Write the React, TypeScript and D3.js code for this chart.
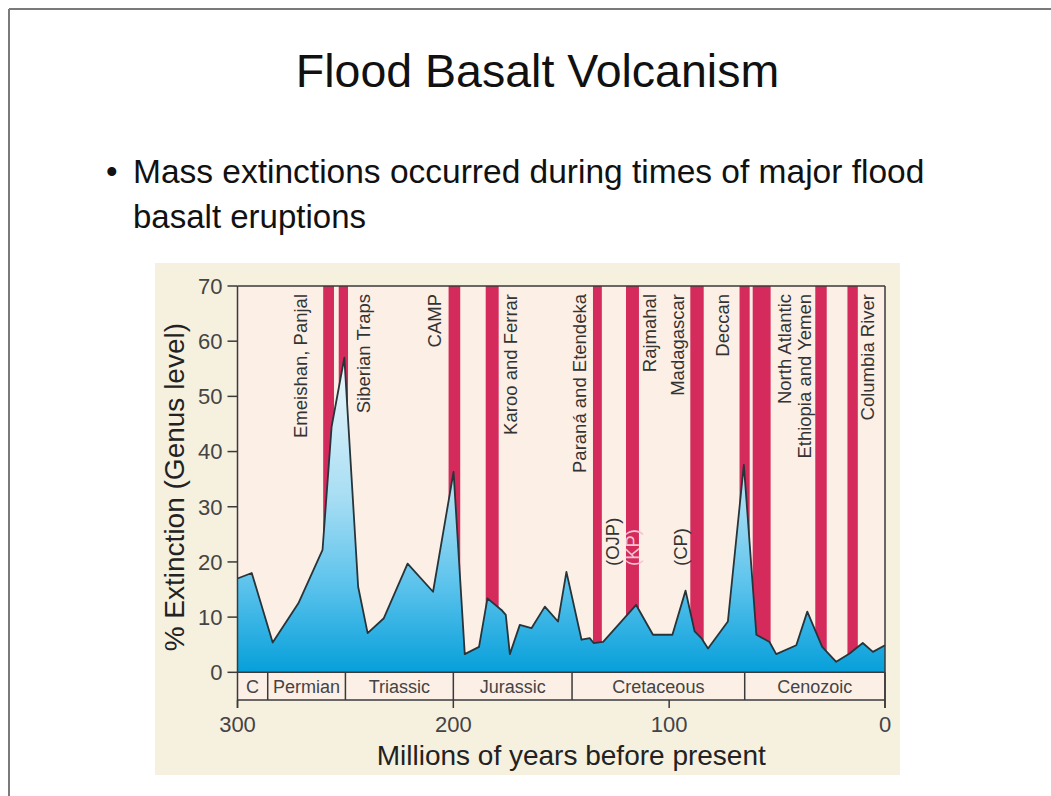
import React from "react";
import * as d3 from "d3";

// ---------- data ----------
const ages = [300, 293.4, 283.7, 271.8, 260.6, 256.4, 250.5, 244.1, 239.7, 232.2, 221.2, 209.4, 199.9, 194.7, 188.1, 184.2, 177.7, 175.7, 173.8, 169.2, 163.8, 157.6, 151.5, 147.6, 140.6, 136.8, 135, 130.6, 115.3, 107.5, 98.5, 92.4, 88.2, 85.1, 82, 72.8, 65.4, 59.6, 53.5, 50.4, 41.1, 36, 29.1, 22.6, 16.4, 10.3, 5.6, 0];
const extinction = [17, 18, 5.4, 12.5, 22.2, 44.5, 57, 15.5, 7.1, 9.8, 19.7, 14.6, 36.3, 3.3, 4.6, 13.4, 11.3, 10.4, 3.3, 8.6, 8.0, 11.9, 9.2, 18.2, 5.9, 6.2, 5.3, 5.5, 12.2, 6.8, 6.8, 14.8, 7.4, 6.2, 4.3, 9.2, 37.6, 6.8, 5.5, 3.3, 4.9, 11.0, 4.6, 1.9, 3.4, 5.3, 3.7, 4.9];

const eruptionNames = ["Emeishan, Panjal", "Siberian Traps", "CAMP", "Karoo and Ferrar", "Paraná and Etendeka", "Rajmahal", "Madagascar", "Deccan", "North Atlantic", "Ethiopia and Yemen", "Columbia River"];
const eruptionStart = [260.3, 253.1, 202.2, 185, 135.3, 120, 90.2, 67.4, 61.3, 32.3, 17.4];
const eruptionEnd = [255.3, 248.8, 196.8, 179, 131.2, 114, 84, 62.7, 53, 27, 12.6];
const eruptionLabelAge = [268, 238.7, 205.8, 170.6, 138.7, 106.2, 93.3, 72.5, 43.7, 34.5, 4.9];

const plateauNames = ["(OJP)", "(KP)", "(CP)"];
const plateauLabelAge = [123.4, 114.1, 91.7];

const periodNames = ["C", "Permian", "Triassic", "Jurassic", "Cretaceous", "Cenozoic"];
const periodStart = [300, 286, 250, 200, 145, 65];
const periodEnd = [286, 250, 200, 145, 65, 0];

const xTicks = [300, 200, 100, 0];
const yTicks = [0, 10, 20, 30, 40, 50, 60, 70];

const FONT = "'Liberation Sans', Arial, Helvetica, sans-serif";

export default function App() {
  const x = d3.scaleLinear().domain([300, 0]).range([237.5, 885]);
  const y = d3.scaleLinear().domain([0, 70]).range([672.3, 286]);
  const rowBottom = 700;

  const pts = ages.map((a, i) => ({ a, v: extinction[i] }));
  const area = d3.area<{ a: number; v: number }>()
    .x((d) => x(d.a))
    .y0(y(0))
    .y1((d) => y(d.v));
  const line = d3.line<{ a: number; v: number }>()
    .x((d) => x(d.a))
    .y((d) => y(d.v));

  const axisColor = "#3a3a3a";

  return (
    <svg width={1051} height={796} style={{ position: "absolute", left: 0, top: 0, background: "#fff" }} fontFamily={FONT}>
      <defs>
        <linearGradient id="fillGrad" gradientUnits="userSpaceOnUse" x1="0" y1={y(57)} x2="0" y2={y(0)}>
          <stop offset="0" stopColor="#eef8fc" />
          <stop offset="0.45" stopColor="#a6ddf3" />
          <stop offset="0.72" stopColor="#5cc3ec" />
          <stop offset="1" stopColor="#069fda" />
        </linearGradient>
      </defs>
      {/* slide border */}
      <line x1={9} y1={9} x2={1051} y2={9} stroke="#7a7a7a" strokeWidth={2} />
      <line x1={9} y1={9} x2={9} y2={796} stroke="#7a7a7a" strokeWidth={2} />

      {/* title */}
      <text x={537.5} y={86.5} textAnchor="middle" fontSize={46.5} fill="#111">Flood Basalt Volcanism</text>
      <text x={106} y={183} fontSize={33} fill="#111">•</text>
      <text x={133} y={183} fontSize={33.5} fill="#111">Mass extinctions occurred during times of major flood</text>
      <text x={133} y={228} fontSize={33} fill="#111">basalt eruptions</text>

      {/* chart background */}
      <rect x={155} y={263} width={745} height={512} fill="#f6f0df" />
      <rect x={x(300)} y={y(70)} width={x(0) - x(300)} height={rowBottom - y(70)} fill="#fcefe6" />

      {/* eruption bars */}
      {eruptionNames.map((n, i) => (
        <rect key={n} x={x(eruptionStart[i])} y={y(70)} width={x(eruptionEnd[i]) - x(eruptionStart[i])} height={y(0) - y(70)} fill="#d42a5c" />
      ))}

      {/* area */}
      <path d={area(pts) || ""} fill="url(#fillGrad)" />
      <path d={line(pts) || ""} fill="none" stroke="#27343a" strokeWidth={1.8} strokeLinejoin="round" />

      {/* eruption labels */}
      {eruptionNames.map((n, i) => (
        <text key={n} transform={`translate(${x(eruptionLabelAge[i])},294) rotate(-90)`} textAnchor="end" fontSize={18.5} fill="#333">{n}</text>
      ))}
      {plateauNames.map((n, i) => (
        <text key={n} transform={`translate(${x(plateauLabelAge[i])},566) rotate(-90)`} textAnchor="start" fontSize={18.5} fill={n === "(KP)" ? "#f3c3d2" : "#333"}>{n}</text>
      ))}

      {/* period row */}
      {periodNames.map((n, i) => (
        <g key={n}>
          <line x1={x(periodEnd[i])} x2={x(periodEnd[i])} y1={y(0)} y2={rowBottom} stroke={axisColor} strokeWidth={1.5} />
          <text x={(x(periodStart[i]) + x(periodEnd[i])) / 2} y={693} textAnchor="middle" fontSize={18} fill="#444">{n}</text>
        </g>
      ))}

      {/* frame */}
      <line x1={x(300)} x2={x(0)} y1={y(70)} y2={y(70)} stroke={axisColor} strokeWidth={1.5} />
      <line x1={x(300)} x2={x(0)} y1={y(0)} y2={y(0)} stroke={axisColor} strokeWidth={1.5} />
      <line x1={x(300)} x2={x(0)} y1={rowBottom} y2={rowBottom} stroke={axisColor} strokeWidth={1.5} />
      <line x1={x(300)} x2={x(300)} y1={y(70)} y2={rowBottom + 8} stroke={axisColor} strokeWidth={1.5} />
      <line x1={x(0)} x2={x(0)} y1={y(70)} y2={rowBottom + 8} stroke={axisColor} strokeWidth={1.5} />

      {/* y axis */}
      {yTicks.map((t) => (
        <g key={t}>
          <line x1={x(300) - 10} x2={x(300)} y1={y(t)} y2={y(t)} stroke={axisColor} strokeWidth={1.5} />
          <text x={x(300) - 15} y={y(t)} dy="0.36em" textAnchor="end" fontSize={22} fill="#444">{t}</text>
        </g>
      ))}
      <text transform={`translate(184,${(y(0) + y(70)) / 2 + 8}) rotate(-90)`} textAnchor="middle" fontSize={28} fill="#222">% Extinction (Genus level)</text>

      {/* x axis */}
      {xTicks.map((t) => (
        <g key={t}>
          <line x1={x(t)} x2={x(t)} y1={rowBottom} y2={rowBottom + 8} stroke={axisColor} strokeWidth={1.5} />
          <text x={x(t)} y={732} textAnchor="middle" fontSize={22} fill="#444">{t}</text>
        </g>
      ))}
      <text x={(x(300) + x(0)) / 2 + 10} y={765} textAnchor="middle" fontSize={28} fill="#222">Millions of years before present</text>
    </svg>
  );
}
